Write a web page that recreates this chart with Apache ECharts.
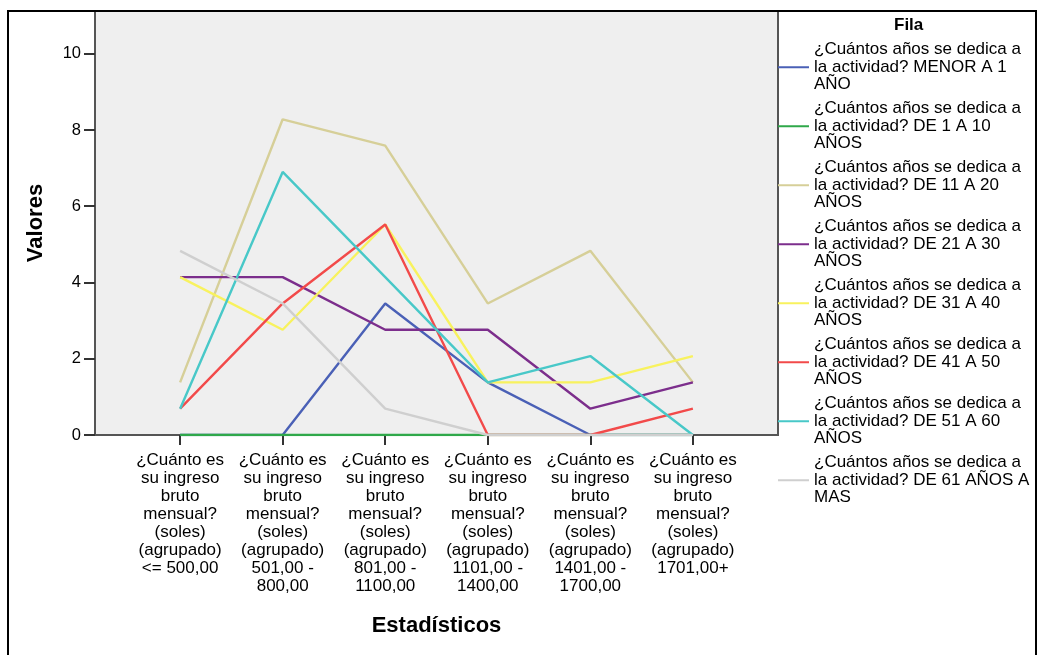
<!DOCTYPE html>
<html>
<head>
<meta charset="utf-8">
<script src="https://cdn.jsdelivr.net/npm/echarts@6/dist/echarts.min.js"></script>
<style>
html,body{margin:0;padding:0;background:#fff;}
#c{width:1039px;height:655px;}
</style>
</head>
<body>
<div id="c"></div>
<script>
const categories = [
  "¿Cuánto es su ingreso bruto mensual? (soles) (agrupado) <= 500,00",
  "¿Cuánto es su ingreso bruto mensual? (soles) (agrupado) 501,00 - 800,00",
  "¿Cuánto es su ingreso bruto mensual? (soles) (agrupado) 801,00 - 1100,00",
  "¿Cuánto es su ingreso bruto mensual? (soles) (agrupado) 1101,00 - 1400,00",
  "¿Cuánto es su ingreso bruto mensual? (soles) (agrupado) 1401,00 - 1700,00",
  "¿Cuánto es su ingreso bruto mensual? (soles) (agrupado) 1701,00+"
];
const seriesNames = [
  "¿Cuántos años se dedica a la actividad? MENOR A 1 AÑO",
  "¿Cuántos años se dedica a la actividad? DE 1 A 10 AÑOS",
  "¿Cuántos años se dedica a la actividad? DE 11 A 20 AÑOS",
  "¿Cuántos años se dedica a la actividad? DE 21 A 30 AÑOS",
  "¿Cuántos años se dedica a la actividad? DE 31 A 40 AÑOS",
  "¿Cuántos años se dedica a la actividad? DE 41 A 50 AÑOS",
  "¿Cuántos años se dedica a la actividad? DE 51 A 60 AÑOS",
  "¿Cuántos años se dedica a la actividad? DE 61 AÑOS A MAS"
];
const valuesMenor1 = [0, 0, 3.45, 1.38, 0, 0];
const values1a10   = [0, 0, 0, 0, 0, 0];
const values11a20  = [1.38, 8.28, 7.59, 3.45, 4.83, 1.38];
const values21a30  = [4.14, 4.14, 2.76, 2.76, 0.69, 1.38];
const values31a40  = [4.14, 2.76, 5.52, 1.38, 1.38, 2.07];
const values41a50  = [0.69, 3.45, 5.52, 0, 0, 0.69];
const values51a60  = [0.69, 6.90, 4.14, 1.38, 2.07, 0];
const values61mas  = [4.83, 3.45, 0.69, 0, 0, 0];
const yTicks = [0, 2, 4, 6, 8, 10];

const seriesValues = [valuesMenor1, values1a10, values11a20, values21a30, values31a40, values41a50, values51a60, values61mas];
const seriesColors = ['#4a60b6', '#2fa84a', '#d6cf98', '#7c2e8c', '#f8f25e', '#f24a4a', '#48c8c8', '#cfcfcf'];

function wrap(text, maxChars) {
  const words = text.split(' ');
  const lines = [];
  let cur = '';
  words.forEach(w => {
    if (cur === '') cur = w;
    else if ((cur + ' ' + w).length <= maxChars) cur += ' ' + w;
    else { lines.push(cur); cur = w; }
  });
  if (cur) lines.push(cur);
  return lines.join('\n');
}

const catIdx = categories.map((c, i) => i);
const chart = echarts.init(document.getElementById('c'), null, {renderer: 'canvas'});
const FONT = '"Liberation Sans", Arial, sans-serif';

chart.setOption({
  backgroundColor: '#ffffff',
  animation: false,
  title: {
    text: 'Fila', left: 889, top: 12,
    textStyle: {fontFamily: FONT, fontSize: 17, fontWeight: 'bold', color: '#000'}
  },
  legend: {
    orient: 'vertical', left: 778, top: 41,
    icon: 'rect', itemWidth: 31, itemHeight: 2, itemGap: 6.5,
    padding: 0,
    data: seriesNames,
    formatter: name => wrap(name, 26),
    textStyle: {fontFamily: FONT, fontSize: 17, lineHeight: 17.5, color: '#000'}
  },
  grid: {
    left: 95, top: 11, right: 1039 - 778, bottom: 655 - 435,
    show: true, backgroundColor: '#efefef', borderColor: '#555', borderWidth: 2
  },
  xAxis: {
    type: 'value', min: -0.83, max: 5.83,
    splitLine: {show: false},
    axisLine: {show: true, onZero: false, lineStyle: {color: '#555', width: 2}},
    axisTick: {show: true, customValues: catIdx, length: 10, lineStyle: {color: '#333', width: 2}},
    axisLabel: {
      customValues: catIdx, margin: 16,
      formatter: v => wrap(categories[Math.round(v)], 10),
      fontFamily: FONT, fontSize: 17, lineHeight: 18, color: '#000', align: 'center'
    },
    name: 'Estadísticos', nameLocation: 'middle', nameGap: 180,
    nameTextStyle: {fontFamily: FONT, fontSize: 22, fontWeight: 'bold', color: '#000'}
  },
  yAxis: {
    type: 'value', min: 0, max: 11.12,
    splitLine: {show: false},
    axisLine: {show: true, onZero: false, lineStyle: {color: '#555', width: 2}},
    axisTick: {show: true, customValues: yTicks, length: 11, lineStyle: {color: '#333', width: 2}},
    axisLabel: {
      customValues: yTicks, margin: 14,
      fontFamily: FONT, fontSize: 16.5, color: '#000'
    },
    name: 'Valores', nameLocation: 'middle', nameGap: 48, nameRotate: 90,
    nameTextStyle: {fontFamily: FONT, fontSize: 22, fontWeight: 'bold', color: '#000'}
  },
  series: seriesNames.map((name, s) => ({
    name: name,
    type: 'line',
    symbol: 'none',
    color: seriesColors[s],
    lineStyle: {width: 2.4, color: seriesColors[s]},
    data: seriesValues[s].map((v, i) => [catIdx[i], v])
  })),
  graphic: [{
    type: 'rect', z: 100, silent: true,
    shape: {x: 8, y: 11, width: 1028, height: 700},
    style: {fill: 'none', stroke: '#000', lineWidth: 2}
  }]
});
</script>
</body>
</html>
